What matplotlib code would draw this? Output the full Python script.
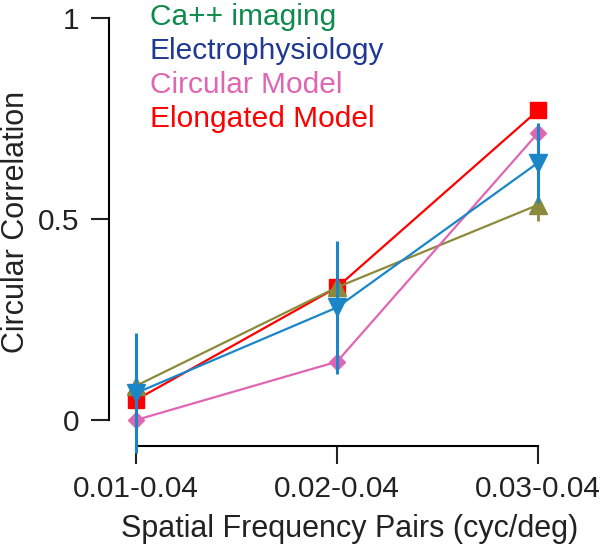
import matplotlib
matplotlib.use("Agg")
import matplotlib.pyplot as plt
import numpy as np

plt.rcParams['font.family'] = ['Liberation Sans', 'DejaVu Sans']

pairs = ["0.01-0.04", "0.02-0.04", "0.03-0.04"]
x = np.arange(len(pairs))

ca_imaging = [0.085, 0.33, 0.535]
ca_err = [0.02, 0.02, 0.04]
ephys = [0.067, 0.28, 0.64]
ephys_err = [0.15, 0.165, 0.10]
circular = [0.0, 0.145, 0.714]
elongated = [0.05, 0.33, 0.77]

legend_labels = ["Ca++ imaging", "Electrophysiology", "Circular Model", "Elongated Model"]
legend_colors = ["#0d8a4c", "#1f3891", "#e066b3", "#ff0000"]

fig = plt.figure(figsize=(6, 5.45), dpi=100)
ax = fig.add_axes([109/600, 1-446/545, (590-109)/600, (446-5)/545])

ax.plot(x, elongated, color="#ff0000", lw=1.6, marker="s", ms=11.5, clip_on=False, zorder=3)
ax.errorbar(x, ca_imaging, yerr=ca_err, color="#8c8a3a", lw=1.6, elinewidth=2, marker="^", ms=13,
            capsize=0, clip_on=False, zorder=4)
ax.plot(x, circular, color="#e066b3", lw=1.6, marker="D", ms=8, clip_on=False, zorder=5)
eb = ax.errorbar(x, ephys, yerr=ephys_err, color="#1a86c8", lw=1.6, elinewidth=2.2, marker="v", ms=13,
                 capsize=0, zorder=6)
for art in eb.get_children():
    art.set_clip_on(False)

ax.set_xlim((109-136)/201, (590-136)/201)
ax.set_ylim((420-446)/402, (420-5)/402)

ax.spines['top'].set_visible(False)
ax.spines['right'].set_visible(False)
ax.spines['left'].set_bounds(0, 1)
ax.spines['bottom'].set_bounds(0, 2)
ax.spines['left'].set_linewidth(1.5)
ax.spines['bottom'].set_linewidth(1.5)

ax.set_xticks(x)
ax.set_xticklabels(pairs)
ax.set_yticks([0, 0.5, 1])
ax.set_yticklabels(["0", "0.5", "1"])
ax.tick_params(length=13, width=1.5, labelsize=21.5, pad=8, color="#222222", labelcolor="#222222")

ax.set_xlabel("Spatial Frequency Pairs (cyc/deg)", fontsize=22, color="#222222", labelpad=8)
fig.text(1/600, 1-222/545, "Circular Correlation", fontsize=22, color="#222222",
         rotation=90, ha="left", va="center")

for i, (lab, col) in enumerate(zip(legend_labels, legend_colors)):
    fig.text(150/600, 1-(25+34*i)/545, lab, color=col, fontsize=21.5, ha="left", va="baseline")

plt.savefig("out.png", dpi=100)
